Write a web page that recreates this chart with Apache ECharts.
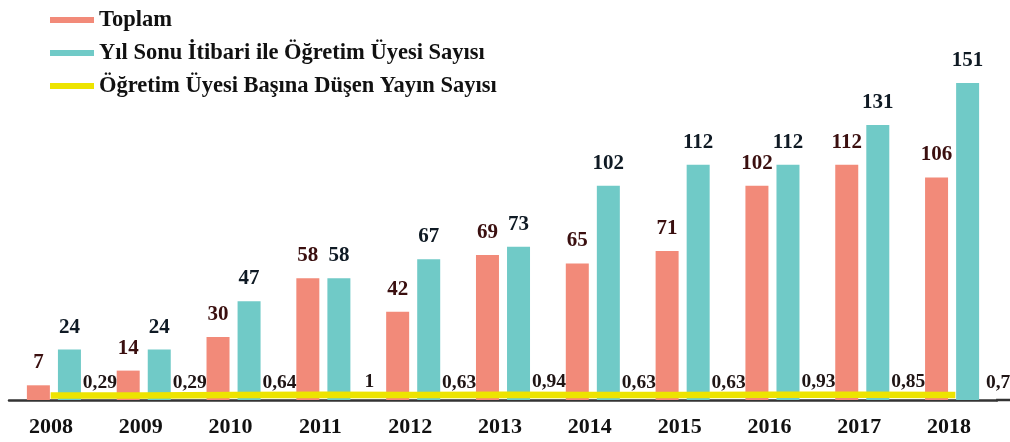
<!DOCTYPE html>
<html>
<head>
<meta charset="utf-8">
<script src="https://cdn.jsdelivr.net/npm/echarts@6/dist/echarts.min.js"></script>
<style>
html,body{margin:0;padding:0;background:#fff;}
#c{width:1010px;height:442px;}
</style>
</head>
<body>
<div id="c"></div>
<script>
const years = ['2008','2009','2010','2011','2012','2013','2014','2015','2016','2017','2018'];
const toplam = [7,14,30,58,42,69,65,71,102,112,106];
const ogretimUyesi = [24,24,47,58,67,73,102,112,112,131,151];
const oran = [0.29,0.29,0.64,1,0.63,0.94,0.63,0.63,0.93,0.85,0.7];
const seriesNames = ['Toplam','Yıl Sonu İtibari ile Öğretim Üyesi Sayısı','Öğretim Üyesi Başına Düşen Yayın Sayısı'];

const serif = '"Liberation Serif", "DejaVu Serif", serif';
const chart = echarts.init(document.getElementById('c'));
chart.setOption({
  backgroundColor: '#fff',
  animation: false,
  legend: {
    orient: 'vertical',
    left: 45,
    top: 3,
    itemWidth: 44,
    itemHeight: 6,
    itemGap: 9,
    icon: 'rect',
    textStyle: {fontFamily: serif, fontWeight: 'bold', fontSize: 22.5, color: '#111', lineHeight: 24},
    data: seriesNames
  },
  grid: {left: 9, right: 13, top: 1, bottom: 42},
  xAxis: {
    type: 'category',
    data: years,
    axisTick: {show: false},
    axisLine: {lineStyle: {color: '#333', width: 2.5}},
    axisLabel: {fontFamily: serif, fontWeight: 'bold', fontSize: 22, color: '#111', margin: 16, padding: [0, 6, 0, 0]}
  },
  yAxis: [
    {type: 'value', min: 0, max: 190, show: false, splitLine: {show: false}},
    {type: 'value', min: -4.3, max: 394.7, show: false, splitLine: {show: false}}
  ],
  series: [
    {
      name: seriesNames[0], type: 'bar', data: toplam, barWidth: 23, barGap: '35%',
      itemStyle: {color: '#F28A79'},
      label: {show: true, position: 'top', distance: 12, fontFamily: serif, fontWeight: 'bold', fontSize: 21, color: '#3a0f0f'}
    },
    {
      name: seriesNames[1], type: 'bar', data: ogretimUyesi, barWidth: 23,
      itemStyle: {color: '#70CAC7'},
      label: {show: true, position: 'top', distance: 12, fontFamily: serif, fontWeight: 'bold', fontSize: 21, color: '#0f1a24'}
    },
    {
      name: seriesNames[2], type: 'line', data: oran, yAxisIndex: 1, z: 5,
      symbol: 'circle', symbolSize: 1, showSymbol: true,
      itemStyle: {color: '#EDE400'},
      lineStyle: {color: '#EDE400', width: 6.5, cap: 'square'},
      label: {show: true, position: 'top', distance: 2, offset: [46, 0],
        fontFamily: serif, fontWeight: 'bold', fontSize: 19.5, color: '#1f1414',
        formatter: p => String(p.value).replace('.', ',')}
    }
  ]
});
// extend the baseline to the right edge like the original
const y0 = chart.convertToPixel({yAxisIndex: 0}, 0);
const xEnd = chart.convertToPixel({xAxisIndex: 0}, years[years.length - 1]) + 44;
chart.setOption({
  graphic: [{type: 'line', shape: {x1: xEnd, y1: y0, x2: chart.getWidth(), y2: y0},
    style: {stroke: '#333', lineWidth: 2.5}, silent: true}]
});
</script>
</body>
</html>
